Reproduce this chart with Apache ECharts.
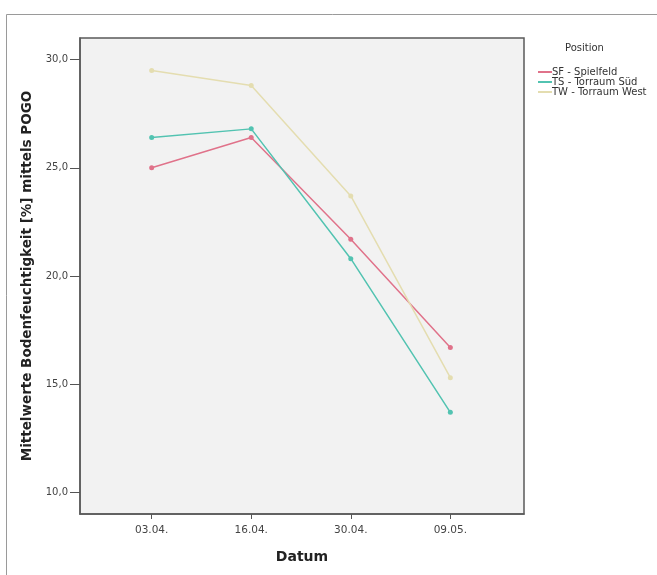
<!DOCTYPE html>
<html>
<head>
<meta charset="utf-8">
<script src="https://cdn.jsdelivr.net/npm/echarts@6/dist/echarts.min.js"></script>
<style>
  html, body { margin: 0; padding: 0; background: #fff; }
  #chart { width: 657px; height: 575px; }
</style>
</head>
<body>
<div id="chart"></div>
<script>
// Datum (Messtage)
var dates = ['03.04.', '16.04.', '30.04.', '09.05.'];
// Mittelwerte Bodenfeuchtigkeit [%] je Position
var spielfeld = [25.0, 26.4, 21.7, 16.7];
var torraumSued = [26.4, 26.8, 20.8, 13.7];
var torraumWest = [29.5, 28.8, 23.7, 15.3];
var yTicks = [10, 15, 20, 25, 30];

function pts(arr) {
  return arr.map(function (v, i) { return [i, v]; });
}

var chart = echarts.init(document.getElementById('chart'));
var font = 'DejaVu Sans, Verdana, sans-serif';

function line(name, data, color) {
  return {
    name: name,
    type: 'line',
    data: pts(data),
    symbol: 'circle',
    symbolSize: 5,
    lineStyle: { width: 1.5, color: color },
    itemStyle: { color: color },
    emphasis: { disabled: true }
  };
}

chart.setOption({
  animation: false,
  textStyle: { fontFamily: font },
  graphic: [{
    type: 'rect',
    left: 4, top: 12,
    shape: { width: 700, height: 600 },
    style: { fill: null, stroke: '#9a9a9a', lineWidth: 1 },
    silent: true
  }],
  title: {
    text: 'Position',
    left: 560, top: 38,
    textStyle: { fontSize: 10, fontWeight: 'normal', color: '#333', fontFamily: font }
  },
  legend: {
    orient: 'vertical',
    left: 533, top: 62,
    itemWidth: 14, itemHeight: 2, itemGap: 0,
    icon: 'rect',
    textStyle: { fontSize: 10, lineHeight: 9, color: '#333', padding: [0, 0, 0, -5] },
    data: ['SF - Spielfeld', 'TS - Torraum Süd', 'TW - Torraum West']
  },
  grid: {
    left: 80, top: 38, right: 133, bottom: 61,
    show: true,
    backgroundColor: '#f2f2f2',
    borderColor: '#5a5a5a',
    borderWidth: 1.5
  },
  xAxis: {
    type: 'value',
    min: -0.72, max: 3.74,
    name: 'Datum',
    nameLocation: 'middle',
    nameGap: 36,
    nameTextStyle: { fontSize: 14, fontWeight: 'bold', color: '#222' },
    axisLine: { show: true, onZero: false, lineStyle: { color: '#5a5a5a', width: 1.5 } },
    axisTick: { show: true, customValues: [0, 1, 2, 3], length: 5, lineStyle: { color: '#555' } },
    axisLabel: {
      customValues: [0, 1, 2, 3],
      fontSize: 10.5, color: '#444', margin: 11,
      formatter: function (v) { return dates[Math.round(v)]; }
    },
    splitLine: { show: false }
  },
  yAxis: {
    type: 'value',
    min: 9, max: 31,
    name: 'Mittelwerte Bodenfeuchtigkeit [%] mittels POGO',
    nameLocation: 'middle',
    nameGap: 46,
    nameTextStyle: { fontSize: 13.5, fontWeight: 'bold', color: '#222' },
    axisLine: { show: true, onZero: false, lineStyle: { color: '#5a5a5a', width: 1.5 } },
    axisTick: { show: true, customValues: yTicks, length: 10, lineStyle: { color: '#555' } },
    axisLabel: {
      customValues: yTicks,
      fontSize: 10, color: '#444', margin: 12,
      formatter: function (v) { return v.toFixed(1).replace('.', ','); }
    },
    splitLine: { show: false }
  },
  series: [
    line('SF - Spielfeld', spielfeld, '#e0728a'),
    line('TS - Torraum Süd', torraumSued, '#52c3b1'),
    line('TW - Torraum West', torraumWest, '#e4ddb0')
  ]
});
</script>
</body>
</html>
